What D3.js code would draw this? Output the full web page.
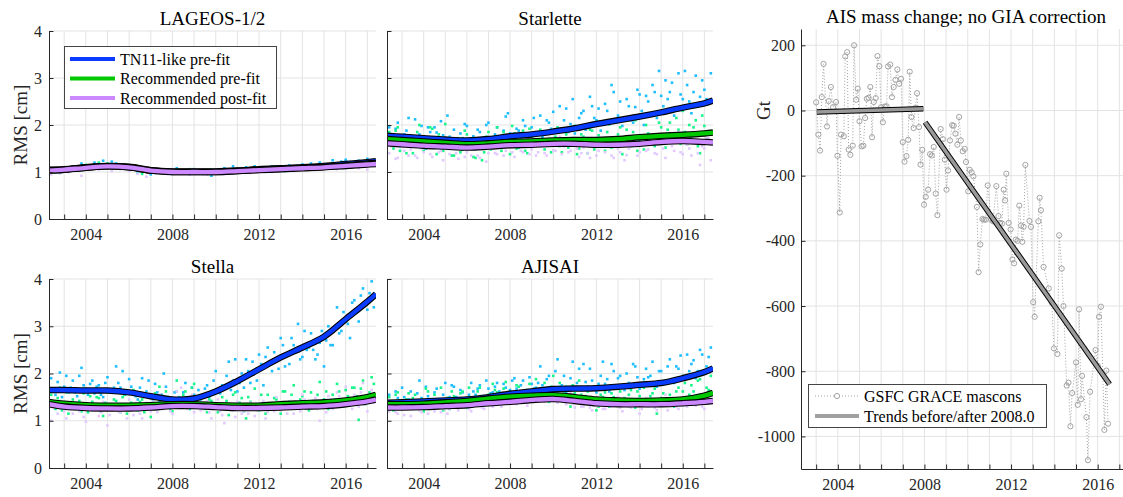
<!DOCTYPE html>
<html>
<head>
<meta charset="utf-8">
<script src="https://cdn.jsdelivr.net/npm/d3@7.9.0/dist/d3.min.js"></script>
<style>
  body { margin: 0; background: #fff; }
  svg text { font-family: "Liberation Serif", "Times New Roman", serif; }
</style>
</head>
<body>
<svg id="chart" width="1123" height="497"></svg>
<script>
// knot epochs of the smoothed RMS curves
const fitYears = [2002.3, 2003, 2004, 2005, 2006, 2007, 2008, 2009, 2010, 2011, 2012, 2013, 2014, 2015, 2016, 2017, 2017.4];

const lageosTN11Fit    = [1.05,1.06,1.10,1.13,1.11,1.04,1.01,1.01,1.01,1.03,1.06,1.08,1.10,1.13,1.17,1.21,1.23];
const lageosRecPreFit  = [1.04,1.05,1.09,1.12,1.10,1.03,1.00,1.00,1.00,1.02,1.05,1.07,1.09,1.11,1.14,1.18,1.19];
const lageosRecPostFit = [1.03,1.05,1.09,1.12,1.10,1.03,1.00,1.00,1.00,1.02,1.04,1.06,1.08,1.10,1.13,1.16,1.17];

const starletteTN11Fit    = [1.77,1.75,1.72,1.69,1.67,1.70,1.76,1.80,1.86,1.93,2.02,2.10,2.18,2.27,2.37,2.46,2.52];
const starletteRecPreFit  = [1.70,1.68,1.65,1.62,1.59,1.61,1.64,1.65,1.67,1.68,1.68,1.70,1.74,1.77,1.79,1.82,1.84];
const starletteRecPostFit = [1.61,1.59,1.56,1.54,1.52,1.54,1.57,1.58,1.60,1.60,1.58,1.58,1.60,1.64,1.66,1.64,1.63];

const stellaTN11Fit    = [1.65,1.65,1.64,1.64,1.60,1.52,1.45,1.47,1.62,1.84,2.09,2.34,2.55,2.78,3.15,3.52,3.68];
const stellaRecPreFit  = [1.40,1.36,1.33,1.32,1.32,1.33,1.35,1.35,1.33,1.32,1.32,1.35,1.37,1.39,1.43,1.50,1.55];
const stellaRecPostFit = [1.35,1.30,1.27,1.26,1.26,1.28,1.31,1.31,1.29,1.27,1.27,1.28,1.30,1.31,1.35,1.41,1.45];

const ajisaiTN11Fit    = [1.38,1.39,1.41,1.43,1.45,1.50,1.57,1.62,1.67,1.68,1.69,1.72,1.76,1.80,1.90,2.03,2.11];
const ajisaiRecPreFit  = [1.35,1.35,1.36,1.39,1.42,1.47,1.51,1.53,1.54,1.50,1.45,1.43,1.42,1.43,1.45,1.53,1.59];
const ajisaiRecPostFit = [1.28,1.28,1.29,1.31,1.33,1.37,1.40,1.44,1.46,1.42,1.37,1.35,1.35,1.35,1.37,1.40,1.42];

// individual RMS values: "A" arrays every 0.2 yr from 2002.4, "B" arrays every 0.2 yr from 2002.5
const obsStart = 2002.4, obsStep = 0.2, obsShiftB = 0.1;

const lageosTN11 = [1.02,1.08,0.98,1.10,1.05, 1.12,1.06,1.18,1.08,1.14, 1.20,1.10,1.24,1.15,1.22, 1.18,1.12,1.08,1.14,1.05,
  0.98,1.06,1.02,0.95,1.04, 1.00,1.05,0.96,1.02,1.08, 0.98,1.04,0.95,1.06,1.00, 0.96,1.03,0.92,1.05,0.99,
  1.08,1.02,1.12,1.05,1.00, 1.10,1.04,1.12,1.06,1.09, 1.05,1.12,1.08,1.02,1.10, 1.14,1.08,1.12,1.16,1.06,
  1.18,1.10,1.20,1.14,1.08, 1.25,1.18,1.22,1.26,1.15, 1.20,1.24,1.16,1.28,1.22];
const lageosRecPre = [1.04,0.99,1.08,1.02,1.06, 1.08,1.12,1.04,1.15,1.10, 1.14,1.20,1.12,1.18,1.10, 1.15,1.08,1.12,1.05,1.10,
  1.02,0.96,1.04,1.00,0.98, 1.04,0.98,1.02,0.96,1.05, 1.02,0.97,1.06,0.99,1.03, 1.00,0.95,1.04,0.98,1.02,
  0.97,1.04,1.00,1.06,1.02, 1.06,1.02,1.08,1.04,1.10, 1.08,1.04,1.12,1.06,1.02, 1.10,1.06,1.12,1.08,1.14,
  1.12,1.08,1.16,1.10,1.14, 1.18,1.12,1.20,1.15,1.10, 1.16,1.20,1.12,1.22,1.18];
const lageosRecPost = [0.95,1.02,0.98,1.05,1.00, 1.04,1.08,0.92,1.10,1.06, 1.10,1.05,1.15,1.08,1.02, 1.12,1.06,1.10,1.02,1.08,
  0.96,1.02,0.90,1.00,0.97, 0.98,1.02,0.95,1.00,0.97, 0.96,1.01,0.94,0.99,1.03, 0.98,0.94,1.02,0.97,1.00,
  0.95,1.00,0.97,1.03,0.99, 1.03,0.98,1.05,1.01,1.06, 1.04,1.00,1.07,1.02,1.05, 1.06,1.02,1.08,1.04,1.07,
  1.08,1.04,1.10,1.06,1.09, 1.10,1.06,1.12,1.08,1.11, 1.12,1.08,1.15,1.05,1.14];

const starletteTN11 = [1.95,1.62,2.05,1.70,1.88, 1.58,2.12,1.80,1.66,1.95, 1.52,1.84,2.08,1.60,1.75, 1.90,1.55,1.72,1.98,1.60,
  1.62,1.85,1.74,2.05,1.68, 1.95,1.70,2.18,1.82,1.65, 1.88,2.10,1.72,1.95,1.78, 2.20,1.80,2.05,2.28,1.85,
  1.90,2.35,2.02,1.82,2.15, 2.30,1.95,2.40,2.10,1.88, 2.45,2.02,2.70,2.20,1.98, 2.55,2.10,2.38,2.65,2.00,
  2.50,2.85,2.15,2.62,2.95, 2.70,2.20,3.10,2.55,2.85, 2.25,3.05,2.60,2.75,2.45];
const starletteTN11B = [1.68,1.92,1.55,1.80,2.15, 1.75,1.60,1.98,1.50,1.85, 1.95,1.62,1.78,2.20,1.58, 1.66,1.82,2.02,1.55,1.76,
  1.90,1.58,2.00,1.72,1.80, 1.62,1.88,2.25,1.70,1.92, 1.70,1.98,1.62,2.15,1.85, 1.75,2.10,1.92,1.70,2.40,
  2.10,1.85,2.55,1.95,2.25, 1.90,2.60,2.15,2.35,2.05, 2.30,2.85,2.05,2.50,2.15, 2.40,2.05,2.75,2.30,2.62,
  2.20,2.70,3.15,2.40,2.55, 2.90,2.35,2.65,3.15,2.50, 2.70,2.40,2.95,2.55,3.10];
const starletteRecPre = [1.85,1.50,1.95,1.62,1.40, 1.78,1.55,2.00,1.45,1.70, 1.92,1.38,1.65,2.02,1.50, 1.35,1.72,1.48,1.80,1.58,
  1.30,1.66,1.42,1.85,1.55, 1.95,1.45,1.70,1.38,1.82, 1.52,1.88,1.40,1.75,1.62, 1.90,1.48,1.72,1.58,1.95,
  1.42,1.80,1.60,1.98,1.50, 1.75,1.40,1.88,1.55,1.70, 1.45,2.02,1.62,1.80,1.38, 1.90,1.55,2.10,1.68,1.48,
  1.82,2.25,1.60,1.95,1.52, 2.05,1.65,1.90,2.30,1.58, 1.75,2.10,1.40,1.98,1.68];
const starletteRecPreB = [1.60,1.88,1.45,1.75,1.55, 1.40,1.85,1.62,1.52,1.95, 1.58,1.80,1.45,1.72,1.35, 1.65,1.42,1.88,1.55,1.32,
  1.60,1.25,1.75,1.48,1.68, 1.55,1.85,1.62,1.98,1.50, 1.78,1.45,1.92,1.58,1.70, 1.62,1.85,1.42,1.75,1.55,
  1.88,1.52,1.72,1.38,1.80, 1.62,1.90,1.48,1.78,1.58, 1.85,1.52,1.72,1.95,1.60, 1.65,1.85,1.45,1.78,2.00,
  1.70,1.55,2.05,1.75,1.90, 1.72,2.15,1.60,1.85,2.00, 1.95,1.55,2.20,1.70,1.85];
const starletteRecPost = [1.40,1.65,1.30,1.55,1.72, 1.48,1.35,1.62,1.42,1.58, 1.32,1.55,1.45,1.68,1.38, 1.50,1.28,1.60,1.42,1.35,
  1.48,1.30,1.62,1.40,1.55, 1.38,1.65,1.45,1.52,1.32, 1.60,1.42,1.70,1.48,1.35, 1.55,1.40,1.72,1.46,1.62,
  1.38,1.58,1.45,1.68,1.32, 1.52,1.40,1.65,1.35,1.55, 1.42,1.62,1.30,1.50,1.68, 1.36,1.55,1.75,1.42,1.60,
  1.48,1.80,1.38,1.62,1.30, 1.70,1.45,1.85,1.38,1.58, 1.35,1.62,1.15,1.50,1.72];
const starletteRecPostB = [1.55,1.28,1.62,1.45,1.35, 1.62,1.30,1.50,1.70,1.38, 1.60,1.42,1.25,1.52,1.62, 1.40,1.58,1.32,1.50,1.62,
  1.35,1.58,1.22,1.50,1.40, 1.58,1.35,1.62,1.42,1.70, 1.45,1.65,1.38,1.55,1.42, 1.65,1.35,1.58,1.45,1.75,
  1.55,1.42,1.72,1.50,1.40, 1.62,1.30,1.55,1.45,1.70, 1.55,1.35,1.60,1.42,1.25, 1.50,1.68,1.35,1.58,1.45,
  1.58,1.40,1.70,1.50,1.65, 1.55,1.75,1.42,1.62,1.50, 1.62,1.40,1.55,1.72,1.25];

const stellaTN11 = [1.90,1.55,2.02,1.72,1.60, 1.85,1.52,2.12,1.68,1.78, 1.58,1.75,1.50,1.92,1.65, 2.15,1.70,1.55,1.88,1.62,
  1.45,1.90,1.62,1.52,1.78, 1.40,2.00,1.50,1.35,1.62, 1.48,1.80,1.38,1.55,1.65, 1.52,1.75,1.60,2.05,1.58,
  1.70,2.25,1.85,1.62,2.00, 2.30,1.80,2.05,2.40,1.75, 2.55,2.05,2.30,2.75,2.15, 2.20,2.60,3.05,2.35,2.50,
  2.85,2.30,2.65,2.15,3.00, 2.60,3.40,2.90,3.15,2.75, 3.55,3.10,3.80,3.35,3.95];
const stellaTN11B = [1.62,1.82,1.50,1.95,1.70, 1.60,1.95,1.75,1.55,1.85, 1.72,1.55,1.80,1.62,1.70, 1.80,2.05,1.60,1.72,1.52,
  1.70,1.55,1.85,1.45,1.60, 1.55,1.72,1.42,1.60,1.50, 1.60,1.42,1.70,1.50,1.45, 1.68,1.50,1.85,1.62,1.75,
  1.95,1.65,2.30,1.80,1.70, 2.05,2.25,1.85,2.20,2.35, 2.25,2.45,2.10,2.60,2.40, 2.75,2.45,2.30,2.90,2.55,
  2.50,2.40,2.90,2.70,2.60, 3.00,2.85,3.30,3.05,3.50, 3.30,3.65,3.45,3.70,3.40];
const stellaRecPre = [1.55,1.25,1.70,1.38,1.15, 1.45,1.62,1.20,1.35,1.52, 1.28,1.48,1.10,1.60,1.35, 1.42,1.18,1.55,1.30,1.65,
  1.22,1.45,1.35,1.08,1.58, 1.72,1.30,1.50,1.20,1.85, 1.40,1.62,1.25,1.78,1.32, 1.50,1.18,1.42,1.60,1.28,
  1.35,1.12,1.55,1.25,1.48, 1.05,1.40,1.68,1.22,1.38, 1.55,1.30,1.45,1.15,1.62, 1.40,1.75,1.28,1.52,1.35,
  1.60,1.32,1.82,1.45,1.25, 1.55,1.78,1.38,1.65,1.48, 1.70,1.02,1.85,1.45,1.92];
const stellaRecPreB = [1.35,1.48,1.22,1.60,1.30, 1.25,1.42,1.58,1.18,1.40, 1.50,1.20,1.38,1.25,1.45, 1.25,1.50,1.15,1.38,1.28,
  1.40,1.18,1.50,1.30,1.25, 1.38,1.62,1.25,1.45,1.35, 1.55,1.28,1.70,1.38,1.48, 1.25,1.45,1.32,1.18,1.50,
  1.42,1.28,1.60,1.38,1.20, 1.50,1.25,1.35,1.55,1.15, 1.25,1.48,1.38,1.62,1.28, 1.55,1.30,1.45,1.62,1.22,
  1.38,1.55,1.28,1.62,1.42, 1.45,1.62,1.30,1.52,1.70, 1.52,1.68,1.35,1.60,1.78];
const stellaRecPost = [1.00,1.30,1.42,1.20,1.35, 1.15,1.38,1.25,0.98,1.32, 1.22,1.10,1.40,0.90,1.28, 1.35,1.18,1.25,1.45,1.12,
  1.28,1.05,1.38,1.20,1.48, 1.55,1.25,1.40,1.15,1.62, 1.70,1.30,1.45,1.18,1.35, 1.25,1.42,1.05,1.32,1.20,
  0.95,1.30,1.22,1.40,1.15, 1.28,1.38,1.10,1.25,1.42, 1.18,1.35,1.50,1.22,1.30, 1.40,1.15,1.32,1.55,1.25,
  1.30,1.48,1.00,1.38,1.52, 1.25,1.60,1.40,1.72,1.35, 1.55,1.30,1.80,1.20,1.65];
const stellaRecPostB = [1.28,1.15,1.38,1.05,1.25, 1.30,1.20,1.08,1.35,1.22, 1.35,1.18,1.28,1.12,1.30, 1.20,1.32,1.05,1.28,1.38,
  1.15,1.32,1.25,1.40,1.18, 1.32,1.45,1.20,1.38,1.28, 1.42,1.25,1.55,1.32,1.22, 1.38,1.18,1.28,1.45,1.12,
  1.25,1.35,1.08,1.30,1.20, 1.15,1.30,1.22,1.35,1.05, 1.32,1.20,1.40,1.28,1.15, 1.25,1.38,1.20,1.45,1.30,
  1.42,1.25,1.35,1.18,1.45, 1.38,1.52,1.30,1.45,1.25, 1.42,1.60,1.35,1.50,1.38];

const ajisaiTN11 = [1.55,1.25,1.48,1.70,1.32, 1.62,1.40,1.85,1.30,1.52, 1.45,1.68,1.35,1.80,1.50, 1.72,1.38,1.60,1.45,1.80,
  1.55,1.75,1.42,1.68,1.60, 1.80,1.52,1.70,1.65,1.90, 1.62,1.85,1.55,1.78,1.70, 2.15,1.65,1.95,1.58,2.30,
  1.75,1.60,1.90,1.68,2.10, 2.20,1.72,1.85,1.60,1.95, 1.78,1.62,2.05,1.90,1.70, 2.00,1.75,2.15,1.68,1.88,
  1.92,2.25,1.72,2.05,1.85, 2.30,1.80,2.10,1.95,2.40, 2.20,1.90,2.50,2.05,2.35];
const ajisaiTN11B = [1.40,1.62,1.35,1.50,1.45, 1.35,1.58,1.48,1.72,1.42, 1.60,1.40,1.55,1.48,1.75, 1.50,1.65,1.42,1.55,1.62,
  1.68,1.50,1.85,1.58,1.72, 1.62,1.78,1.55,1.85,1.68, 1.75,1.60,1.92,1.68,1.80, 1.75,1.88,1.62,2.05,1.72,
  1.95,1.70,2.25,1.80,1.65, 1.82,2.10,1.68,1.78,2.25, 1.88,2.20,1.75,1.95,1.65, 1.80,2.20,1.92,1.72,2.10,
  1.95,1.78,2.05,1.82,2.15, 1.88,2.15,2.38,1.90,2.05, 2.28,2.05,2.40,2.15,2.55];
const ajisaiRecPre = [1.50,1.22,1.60,1.35,1.45, 1.28,1.55,1.40,1.20,1.62, 1.45,1.30,1.70,1.38,1.25, 1.52,1.35,1.62,1.28,1.48,
  1.40,1.70,1.32,1.55,1.78, 1.60,1.38,1.82,1.50,1.45, 1.72,1.42,1.65,1.55,1.88, 1.50,1.80,1.40,1.95,1.62,
  1.45,1.72,1.30,1.58,1.85, 1.35,1.62,1.48,1.22,1.55, 1.60,1.30,1.50,1.75,1.38, 1.45,1.65,1.28,1.52,1.70,
  1.38,1.58,1.15,1.48,1.80, 1.55,1.30,1.70,1.62,1.42, 1.75,1.50,1.88,1.40,1.65];
const ajisaiRecPreB = [1.38,1.55,1.28,1.42,1.58, 1.48,1.32,1.45,1.68,1.35, 1.55,1.40,1.22,1.48,1.62, 1.42,1.58,1.45,1.70,1.38,
  1.62,1.45,1.50,1.38,1.65, 1.48,1.68,1.55,1.42,1.75, 1.58,1.48,1.78,1.62,1.50, 1.65,1.55,1.72,1.48,1.80,
  1.62,1.50,1.75,1.42,1.55, 1.52,1.40,1.68,1.30,1.50, 1.42,1.58,1.35,1.62,1.48, 1.55,1.38,1.62,1.45,1.32,
  1.52,1.68,1.40,1.58,1.35, 1.48,1.62,1.40,1.80,1.55, 1.62,1.85,1.55,1.70,1.95];
const ajisaiRecPost = [1.20,1.35,1.15,1.30,1.25, 1.10,1.38,1.22,1.32,1.15, 1.28,1.40,1.18,1.35,1.25, 1.38,1.22,1.45,1.30,1.20,
  1.35,1.50,1.25,1.42,1.30, 1.48,1.30,1.55,1.38,1.45, 1.42,1.58,1.32,1.50,1.62, 1.55,1.40,1.65,1.45,1.38,
  1.50,1.35,1.60,1.28,1.45, 1.30,1.45,1.22,1.40,1.35, 1.25,1.40,1.32,1.50,1.20, 1.38,1.28,1.45,1.15,1.35,
  1.30,1.45,1.22,1.40,1.55, 1.35,1.48,1.25,1.42,1.30, 1.50,1.32,1.55,1.25,1.45];
const ajisaiRecPostB = [1.28,1.18,1.32,1.12,1.30, 1.25,1.32,1.18,1.40,1.28, 1.20,1.32,1.25,1.15,1.38, 1.28,1.40,1.32,1.25,1.42,
  1.40,1.28,1.45,1.35,1.52, 1.38,1.52,1.42,1.60,1.35, 1.50,1.38,1.55,1.45,1.58, 1.48,1.60,1.42,1.52,1.70,
  1.40,1.52,1.35,1.48,1.30, 1.38,1.28,1.42,1.32,1.25, 1.35,1.30,1.45,1.28,1.40, 1.30,1.42,1.35,1.25,1.48,
  1.35,1.28,1.40,1.32,1.22, 1.42,1.30,1.38,1.50,1.35, 1.38,1.45,1.30,1.52,1.40];

// GSFC GRACE mascons, AIS mass change [Gt]
const graceYear = [2003.00,2003.10,2003.18,2003.26,2003.34,2003.50,2003.58,2003.68,2003.78,2003.92,2003.98,
  2004.09,2004.15,2004.28,2004.34,2004.43,2004.50,2004.58,2004.69,2004.75,2004.85,2004.92,
  2005.00,2005.10,2005.18,2005.26,2005.34,2005.42,2005.50,2005.58,2005.66,2005.75,2005.83,2005.92,
  2006.00,2006.08,2006.17,2006.25,2006.32,2006.42,2006.50,2006.58,2006.66,2006.75,2006.83,2006.92,
  2007.00,2007.08,2007.17,2007.25,2007.32,2007.40,2007.50,2007.58,2007.66,2007.75,2007.82,2007.90,2007.98,
  2008.06,2008.17,2008.26,2008.34,2008.43,2008.52,2008.60,2008.75,2008.85,2008.94,
  2009.02,2009.09,2009.18,2009.28,2009.35,2009.43,2009.52,2009.60,2009.68,2009.77,2009.86,2009.92,
  2010.02,2010.09,2010.18,2010.26,2010.42,2010.50,2010.58,2010.68,2010.75,2010.83,2010.92,
  2011.08,2011.17,2011.32,2011.42,2011.49,2011.58,2011.66,2011.72,2011.78,2011.89,2011.98,
  2012.06,2012.14,2012.22,2012.30,2012.38,2012.46,2012.52,2012.58,2012.66,2012.85,2012.92,
  2013.02,2013.09,2013.26,2013.32,2013.38,2013.50,2013.74,2013.88,2013.98,
  2014.14,2014.22,2014.34,2014.42,2014.57,2014.65,2014.74,2014.82,
  2015.00,2015.08,2015.14,2015.23,2015.28,2015.48,2015.55,2015.65,2015.90,
  2016.00,2016.06,2016.15,2016.31,2016.40,2016.48];
const graceGt = [25,-74,-123,41,143,-49,29,72,10,26,-139,
  -313,-74,-79,166,179,-120,-136,-108,200,33,67,
  -33,-110,-108,-23,36,39,72,-82,26,38,167,136,
  10,-36,12,13,135,141,41,72,94,126,82,97,
  -97,-157,-140,-90,119,-20,-54,8,53,-51,-166,-121,-289,
  -265,-243,-134,-138,-112,-255,-321,-57,-88,-151,
  -243,-184,-92,-45,-47,-71,-105,-20,-92,-125,-118,-158,
  -248,-182,-190,-202,-296,-496,-411,-333,-335,-335,-230,
  -335,-340,-232,-324,-345,-347,-243,-276,-194,-345,-365,
  -457,-469,-396,-400,-292,-353,-403,-357,-167,-339,-357,
  -588,-633,-340,-268,-306,-480,-546,-590,-730,
  -747,-383,-485,-600,-844,-835,-969,-867,
  -773,-903,-610,-886,-814,-941,-1073,-863,-735,
  -783,-633,-602,-980,-798,-961];

// piecewise linear trends [year, Gt]
const trendBefore = [[2003.03, -5], [2007.95, 5]];
const trendAfter = [[2008.03, -36], [2016.55, -840]];

const seriesNames = ['TN11-like pre-fit', 'Recommended pre-fit', 'Recommended post-fit'];
const fitColors = ['#0a3cff', '#00c800', '#cc88ff'];
const obsColors = ['#1ebeff', '#19f58a', '#e2c9ff'];
const rmsTicks = [0, 1, 2, 3, 4];
const yearTicks = d3.range(2003, 2018);
const gtTicks = [200, 0, -200, -400, -600, -800, -1000];

const serif = '"Liberation Serif", "Times New Roman", serif';
const gridColor = '#e3e3e3';
const axisColor = '#262626';

const svg = d3.select('#chart');

const panels = [
  { title: 'LAGEOS-1/2', x0: 49, x1: 376, y0: 31, y1: 219, ylabel: true, legend: true,
    fits: [lageosTN11Fit, lageosRecPreFit, lageosRecPostFit],
    obs: [[lageosTN11], [lageosRecPre], [lageosRecPost]] },
  { title: 'Starlette', x0: 387, x1: 713, y0: 31, y1: 219,
    fits: [starletteTN11Fit, starletteRecPreFit, starletteRecPostFit],
    obs: [[starletteTN11, starletteTN11B], [starletteRecPre, starletteRecPreB], [starletteRecPost, starletteRecPostB]] },
  { title: 'Stella', x0: 49, x1: 376, y0: 279, y1: 468, ylabel: true,
    fits: [stellaTN11Fit, stellaRecPreFit, stellaRecPostFit],
    obs: [[stellaTN11, stellaTN11B], [stellaRecPre, stellaRecPreB], [stellaRecPost, stellaRecPostB]] },
  { title: 'AJISAI', x0: 387, x1: 713, y0: 279, y1: 468,
    fits: [ajisaiTN11Fit, ajisaiRecPreFit, ajisaiRecPostFit],
    obs: [[ajisaiTN11, ajisaiTN11B], [ajisaiRecPre, ajisaiRecPreB], [ajisaiRecPost, ajisaiRecPostB]] }
];

function styleAxis(g) {
  g.attr('font-family', serif).attr('font-size', 16);
  g.select('.domain').attr('stroke', axisColor);
  g.selectAll('.tick line').attr('stroke', axisColor);
  g.selectAll('.tick text').attr('fill', axisColor);
}

panels.forEach((p, idx) => {
  const x = d3.scaleLinear().domain([2002.3, 2017.4]).range([p.x0, p.x1]);
  const y = d3.scaleLinear().domain([0, 4]).range([p.y1, p.y0]);
  const g = svg.append('g');

  // grid
  g.selectAll('line.vg').data(yearTicks).join('line').attr('class', 'vg')
    .attr('x1', d => x(d)).attr('x2', d => x(d)).attr('y1', p.y0).attr('y2', p.y1)
    .attr('stroke', gridColor);
  g.selectAll('line.hg').data(rmsTicks.slice(1)).join('line').attr('class', 'hg')
    .attr('x1', p.x0).attr('x2', p.x1).attr('y1', d => y(d)).attr('y2', d => y(d))
    .attr('stroke', gridColor);

  svg.append('clipPath').attr('id', 'clip' + idx)
    .append('rect').attr('x', p.x0).attr('y', p.y0).attr('width', p.x1 - p.x0).attr('height', p.y1 - p.y0);
  const plot = g.append('g').attr('clip-path', `url(#clip${idx})`);

  // individual values
  p.obs.forEach((sets, k) => {
    sets.forEach((vals, j) => {
      plot.append('g').selectAll('rect').data(vals).join('rect')
        .attr('x', (d, i) => x(obsStart + j * obsShiftB + i * obsStep) - 1.3)
        .attr('y', d => y(d) - 1.3)
        .attr('width', 2.6).attr('height', 2.6)
        .attr('fill', obsColors[k]);
    });
  });

  // smoothed curves with black edge
  const line = d3.line()
    .x((d, i) => x(fitYears[i]))
    .y(d => y(d))
    .curve(d3.curveCatmullRom.alpha(0.5));
  p.fits.forEach((vals, k) => {
    plot.append('path').attr('d', line(vals)).attr('fill', 'none')
      .attr('stroke', '#000').attr('stroke-width', 6.5);
    plot.append('path').attr('d', line(vals)).attr('fill', 'none')
      .attr('stroke', fitColors[k]).attr('stroke-width', 4.3);
  });

  // axes
  g.append('g').attr('transform', `translate(0,${p.y1})`)
    .call(d3.axisBottom(x).tickValues(yearTicks).tickSize(-4.5).tickSizeOuter(0).tickPadding(10)
      .tickFormat(d => d % 4 === 0 ? d : ''))
    .call(styleAxis);
  g.append('g').attr('transform', `translate(${p.x0},0)`)
    .call(d3.axisLeft(y).tickValues(rmsTicks).tickSize(-4.5).tickSizeOuter(0).tickPadding(7)
      .tickFormat(d => p.ylabel ? d : ''))
    .call(styleAxis);

  g.append('text').attr('x', (p.x0 + p.x1) / 2).attr('y', p.y0 - 6)
    .attr('text-anchor', 'middle').attr('font-size', 19).attr('fill', '#000').text(p.title);

  if (p.ylabel) {
    g.append('text').attr('transform', `translate(27,${(p.y0 + p.y1) / 2}) rotate(-90)`)
      .attr('text-anchor', 'middle').attr('font-size', 19).attr('fill', axisColor).text('RMS [cm]');
  }

  if (p.legend) {
    const lg = g.append('g');
    lg.append('rect').attr('x', 64.5).attr('y', 46.5).attr('width', 212).attr('height', 62)
      .attr('fill', '#fff').attr('stroke', '#444');
    seriesNames.forEach((name, k) => {
      const ly = 59 + k * 19.5;
      lg.append('line').attr('x1', 70).attr('x2', 115).attr('y1', ly).attr('y2', ly)
        .attr('stroke', fitColors[k]).attr('stroke-width', 4);
      lg.append('text').attr('x', 120).attr('y', ly + 5.5).attr('font-size', 16)
        .attr('fill', '#000').text(name);
    });
  }
});

// AIS mass change panel
(function drawAIS() {
  const x0 = 801, x1 = 1128, y0 = 29, y1 = 469;
  const x = d3.scaleLinear().domain([2002.3, 2017.4]).range([x0, x1]);
  const y = d3.scaleLinear().domain([-1100, 250]).range([y1, y0]);
  const g = svg.append('g');

  g.selectAll('line.vg').data(yearTicks).join('line').attr('class', 'vg')
    .attr('x1', d => x(d)).attr('x2', d => x(d)).attr('y1', y0).attr('y2', y1)
    .attr('stroke', gridColor);
  g.selectAll('line.hg').data(gtTicks).join('line').attr('class', 'hg')
    .attr('x1', x0).attr('x2', x1).attr('y1', d => y(d)).attr('y2', d => y(d))
    .attr('stroke', gridColor);

  const pts = graceYear.map((t, i) => [t, graceGt[i]]);
  const grey = '#a3a3a3';
  g.append('path').attr('d', d3.line().x(d => x(d[0])).y(d => y(d[1]))(pts))
    .attr('fill', 'none').attr('stroke', grey).attr('stroke-width', 1).attr('stroke-dasharray', '1,2');
  g.append('g').selectAll('circle').data(pts).join('circle')
    .attr('cx', d => x(d[0])).attr('cy', d => y(d[1])).attr('r', 2.6)
    .attr('fill', 'none').attr('stroke', grey).attr('stroke-width', 1);

  const tl = d3.line().x(d => x(d[0])).y(d => y(d[1]));
  [trendBefore, trendAfter].forEach(seg => {
    g.append('path').attr('d', tl(seg)).attr('stroke', '#000').attr('stroke-width', 5.5).attr('fill', 'none');
    g.append('path').attr('d', tl(seg)).attr('stroke', '#9a9a9a').attr('stroke-width', 3.5).attr('fill', 'none');
  });

  g.append('g').attr('transform', `translate(0,${y1})`)
    .call(d3.axisBottom(x).tickValues(yearTicks).tickSize(-4.5).tickSizeOuter(0).tickPadding(10)
      .tickFormat(d => d % 4 === 0 ? d : ''))
    .call(styleAxis);
  g.append('g').attr('transform', `translate(${x0},0)`)
    .call(d3.axisLeft(y).tickValues(gtTicks).tickSize(-4.5).tickSizeOuter(0).tickPadding(6)
      .tickFormat(d => d < 0 ? '-' + Math.abs(d) : d))
    .call(styleAxis);

  g.append('text').attr('x', 966).attr('y', 23).attr('text-anchor', 'middle')
    .attr('font-size', 19).attr('fill', '#000').text('AIS mass change; no GIA correction');
  g.append('text').attr('transform', `translate(770,${y(0)}) rotate(-90)`)
    .attr('text-anchor', 'middle').attr('font-size', 19).attr('fill', axisColor).text('Gt');

  // legend
  const lg = g.append('g');
  lg.append('rect').attr('x', 808.5).attr('y', 384.5).attr('width', 238).attr('height', 43)
    .attr('fill', '#fff').attr('stroke', '#444');
  lg.append('line').attr('x1', 815).attr('x2', 859).attr('y1', 396).attr('y2', 396)
    .attr('stroke', grey).attr('stroke-dasharray', '1,2');
  lg.append('circle').attr('cx', 837).attr('cy', 396).attr('r', 2.6)
    .attr('fill', '#fff').attr('stroke', grey);
  lg.append('text').attr('x', 864).attr('y', 401.5).attr('font-size', 16).attr('fill', '#000')
    .text('GSFC GRACE mascons');
  lg.append('line').attr('x1', 815).attr('x2', 859).attr('y1', 416).attr('y2', 416)
    .attr('stroke', '#a0a0a0').attr('stroke-width', 4);
  lg.append('text').attr('x', 864).attr('y', 421.5).attr('font-size', 16).attr('fill', '#000')
    .text('Trends before/after 2008.0');
})();
</script>
</body>
</html>
